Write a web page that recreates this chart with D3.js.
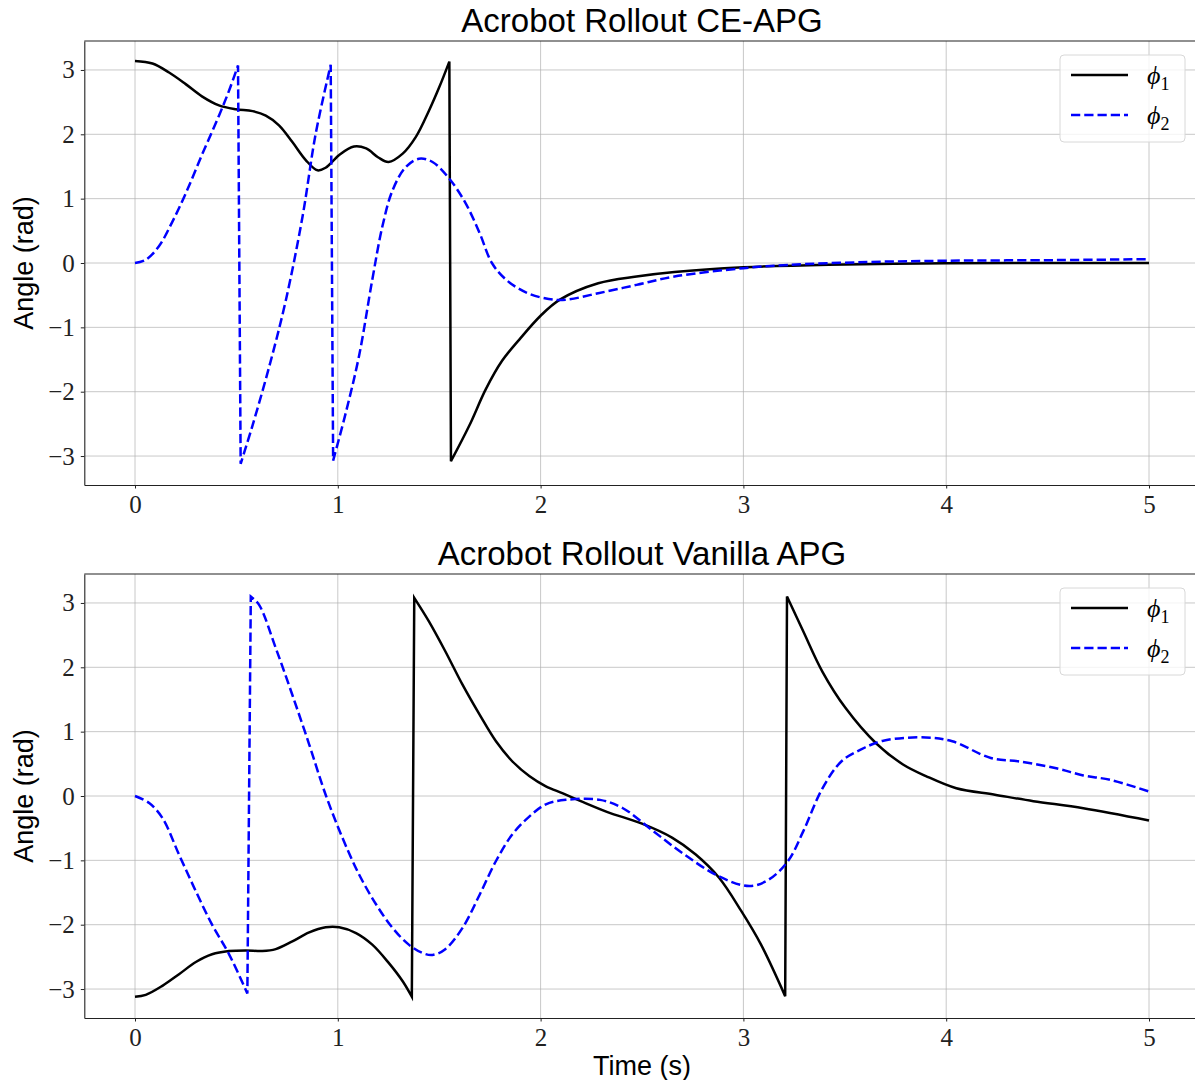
<!DOCTYPE html>
<html>
<head>
<meta charset="utf-8">
<script src="https://cdn.jsdelivr.net/npm/d3@7/dist/d3.min.js"></script>
<style>
  body { margin: 0; background: #fff; }
</style>
</head>
<body>
<div id="chart"></div>
<script>
// ---- data (time in s, angle in rad) ----
var ceTime1 = [0, 0.086, 0.168, 0.25, 0.33, 0.414, 0.497, 0.58, 0.645, 0.71, 0.776, 0.842, 0.90, 0.94, 1.007, 1.08, 1.14, 1.20, 1.25, 1.32, 1.385, 1.45, 1.50, 1.55, 1.558, 1.648, 1.73, 1.81, 1.895, 2.0, 2.095, 2.284, 2.473, 2.66, 3.0, 3.42, 4.0, 4.5, 5.0];
var cePhi1  = [3.14, 3.10, 2.96, 2.78, 2.59, 2.45, 2.39, 2.36, 2.29, 2.14, 1.88, 1.60, 1.44, 1.48, 1.68, 1.81, 1.78, 1.64, 1.57, 1.70, 1.96, 2.37, 2.73, 3.13, -3.08, -2.53, -1.96, -1.52, -1.19, -0.82, -0.57, -0.315, -0.21, -0.14, -0.067, -0.026, -0.005, 0.0, 0.0];

var ceTime2 = [0, 0.053, 0.118, 0.184, 0.25, 0.33, 0.414, 0.464, 0.508, 0.521, 0.579, 0.661, 0.743, 0.826, 0.891, 0.965, 0.977, 1.04, 1.105, 1.17, 1.22, 1.27, 1.335, 1.40, 1.467, 1.55, 1.63, 1.70, 1.76, 1.83, 1.93, 2.04, 2.125, 2.284, 2.473, 2.66, 3.0, 3.22, 3.61, 4.0, 4.55, 5.0];
var cePhi2  = [0, 0.05, 0.26, 0.64, 1.08, 1.68, 2.29, 2.68, 3.07, -3.12, -2.53, -1.62, -0.59, 0.72, 2.01, 3.08, -3.07, -2.32, -1.44, -0.26, 0.57, 1.13, 1.49, 1.62, 1.57, 1.31, 0.93, 0.46, 0.0, -0.26, -0.46, -0.56, -0.57, -0.47, -0.34, -0.21, -0.08, -0.03, 0.015, 0.035, 0.045, 0.06];

var vaTime1 = [0, 0.053, 0.135, 0.217, 0.30, 0.38, 0.464, 0.546, 0.628, 0.694, 0.776, 0.859, 0.94, 1.007, 1.09, 1.17, 1.25, 1.32, 1.365, 1.377, 1.45, 1.53, 1.615, 1.70, 1.78, 1.86, 1.944, 2.026, 2.11, 2.198, 2.33, 2.50, 2.65, 2.765, 2.88, 2.99, 3.087, 3.206, 3.215, 3.295, 3.39, 3.503, 3.654, 3.787, 3.90, 4.05, 4.24, 4.43, 4.676, 5.0];
var vaPhi1  = [-3.12, -3.09, -2.95, -2.77, -2.58, -2.46, -2.41, -2.40, -2.41, -2.38, -2.26, -2.12, -2.04, -2.04, -2.13, -2.31, -2.59, -2.88, -3.12, 3.08, 2.71, 2.25, 1.73, 1.26, 0.85, 0.54, 0.31, 0.15, 0.04, -0.08, -0.25, -0.43, -0.65, -0.91, -1.27, -1.79, -2.31, -3.11, 3.10, 2.56, 1.93, 1.37, 0.82, 0.49, 0.31, 0.12, 0.02, -0.08, -0.19, -0.38];

var vaTime2 = [0, 0.07, 0.135, 0.217, 0.30, 0.38, 0.464, 0.554, 0.571, 0.612, 0.694, 0.776, 0.859, 0.94, 1.023, 1.105, 1.19, 1.27, 1.35, 1.418, 1.467, 1.53, 1.615, 1.70, 1.78, 1.86, 1.944, 2.026, 2.125, 2.293, 2.406, 2.557, 2.709, 2.88, 3.03, 3.125, 3.22, 3.295, 3.39, 3.484, 3.578, 3.69, 3.90, 4.03, 4.22, 4.354, 4.543, 4.676, 4.81, 5.0];
var vaPhi2  = [0, -0.11, -0.34, -0.91, -1.48, -2.0, -2.46, -3.07, 3.10, 2.97, 2.30, 1.57, 0.80, 0.02, -0.65, -1.22, -1.69, -2.05, -2.31, -2.44, -2.47, -2.38, -2.05, -1.53, -1.01, -0.60, -0.32, -0.13, -0.06, -0.06, -0.19, -0.55, -0.91, -1.25, -1.40, -1.30, -1.01, -0.55, 0.12, 0.54, 0.72, 0.86, 0.91, 0.85, 0.59, 0.54, 0.43, 0.32, 0.25, 0.07];

var xTicks = [0, 1, 2, 3, 4, 5];
var yTicks = [-3, -2, -1, 0, 1, 2, 3];
var xLim = [-0.25, 5.25];
var yLim = [-3.45, 3.45];
var titles = ["Acrobot Rollout CE-APG", "Acrobot Rollout Vanilla APG"];
var legendLabels = ["1", "2"];

var W = 1195, H = 1080;
var axLeft = 84.3, axRight = 1199.7, axHeight = 444;
var panelTops = [41, 574];

var svg = d3.select("#chart").append("svg")
    .attr("width", W)
    .attr("height", H);

var x = d3.scaleLinear().domain(xLim).range([axLeft, axRight]);
var y = d3.scaleLinear().domain(yLim).range([axHeight, 0]);

function zip(ts, vs) {
    return ts.map(function(t, i) { return [t, vs[i]]; });
}

var line = d3.line()
    .x(function(d) { return x(d[0]); })
    .y(function(d) { return y(d[1]); })
    .curve(d3.curveCatmullRom.alpha(0.5));

// angle wraps from +pi to -pi: smooth each piece, join pieces with straight jumps
function wrappedPath(ts, vs) {
    var pts = zip(ts, vs), pieces = [[pts[0]]];
    for (var i = 1; i < pts.length; i++) {
        if (Math.abs(pts[i][1] - pts[i - 1][1]) > 3) pieces.push([]);
        pieces[pieces.length - 1].push(pts[i]);
    }
    return pieces.map(function(p, i) {
        var d = p.length > 1 ? line(p) : "M" + x(p[0][0]) + "," + y(p[0][1]);
        return i == 0 ? d : d.replace(/^M/, "L");
    }).join("");
}

function drawPanel(idx, t1, p1, t2, p2) {
    var g = svg.append("g")
        .attr("transform", "translate(0," + panelTops[idx] + ")");

    // grid
    g.append("g").selectAll("line.gx")
        .data(xTicks).enter().append("line")
        .attr("x1", function(d) { return x(d); })
        .attr("x2", function(d) { return x(d); })
        .attr("y1", 0).attr("y2", axHeight)
        .style("stroke", "#b0b0b0").style("stroke-opacity", 0.7).style("stroke-width", 1);
    g.append("g").selectAll("line.gy")
        .data(yTicks).enter().append("line")
        .attr("x1", axLeft).attr("x2", axRight)
        .attr("y1", function(d) { return y(d); })
        .attr("y2", function(d) { return y(d); })
        .style("stroke", "#b0b0b0").style("stroke-opacity", 0.7).style("stroke-width", 1);

    // axes
    var fmt = d3.format("d");
    var xa = g.append("g")
        .attr("transform", "translate(0," + axHeight + ")")
        .call(d3.axisBottom(x).tickValues(xTicks).tickFormat(fmt).tickSize(3.5).tickSizeOuter(0).tickPadding(7));
    var ya = g.append("g")
        .attr("transform", "translate(" + axLeft + ",0)")
        .call(d3.axisLeft(y).tickValues(yTicks).tickFormat(fmt).tickSize(3.5).tickSizeOuter(0).tickPadding(6));
    [xa, ya].forEach(function(a) {
        a.select(".domain").style("stroke", "#222").style("stroke-width", 1.1);
        a.selectAll(".tick line").style("stroke", "#222").style("stroke-width", 1);
        a.selectAll(".tick text")
            .style("font-family", "'Liberation Serif', 'DejaVu Serif', serif")
            .style("font-size", "25px")
            .style("fill", "#222");
    });
    // top spine
    g.append("line")
        .attr("x1", axLeft).attr("x2", axRight)
        .attr("y1", 0).attr("y2", 0)
        .style("stroke", "#222").style("stroke-width", 1.1);

    // curves
    g.append("path")
        .attr("d", wrappedPath(t1, p1))
        .style("fill", "none")
        .style("stroke", "#000")
        .style("stroke-width", 2.5)
        .style("stroke-linejoin", "miter");
    g.append("path")
        .attr("d", wrappedPath(t2, p2))
        .style("fill", "none")
        .style("stroke", "#0000ff")
        .style("stroke-width", 2.5)
        .style("stroke-dasharray", "9.25,4");

    // title
    g.append("text")
        .attr("x", (axLeft + axRight) / 2)
        .attr("y", -9)
        .attr("text-anchor", "middle")
        .style("font-family", "'Liberation Sans', Arial, sans-serif")
        .style("font-size", "33px")
        .text(titles[idx]);

    // y label
    g.append("text")
        .attr("transform", "rotate(-90)")
        .attr("x", -axHeight / 2)
        .attr("y", 33)
        .attr("text-anchor", "middle")
        .style("font-family", "'Liberation Sans', Arial, sans-serif")
        .style("font-size", "27px")
        .text("Angle (rad)");

    // legend
    var lg = g.append("g");
    lg.append("rect")
        .attr("x", 1060).attr("y", 14)
        .attr("width", 125).attr("height", 87)
        .attr("rx", 4)
        .style("fill", "#fff").style("fill-opacity", 0.8)
        .style("stroke", "#d8d8d8").style("stroke-width", 1);
    var ly = [34, 74];
    ly.forEach(function(yy, i) {
        lg.append("line")
            .attr("x1", 1071).attr("x2", 1128)
            .attr("y1", yy).attr("y2", yy)
            .style("stroke", i == 0 ? "#000" : "#0000ff")
            .style("stroke-width", 2.5)
            .style("stroke-dasharray", i == 0 ? null : "9.25,4");
        var t = lg.append("text")
            .attr("x", 1147).attr("y", yy + 9)
            .style("font-family", "'Liberation Serif', 'DejaVu Serif', serif")
            .style("font-size", "26px");
        t.append("tspan").style("font-style", "italic").text("\u03d5");
        t.append("tspan").attr("dy", 6).style("font-size", "18px").text(legendLabels[i]);
    });
}

drawPanel(0, ceTime1, cePhi1, ceTime2, cePhi2);
drawPanel(1, vaTime1, vaPhi1, vaTime2, vaPhi2);

// x label
svg.append("text")
    .attr("x", (axLeft + axRight) / 2)
    .attr("y", 1075)
    .attr("text-anchor", "middle")
    .style("font-family", "'Liberation Sans', Arial, sans-serif")
    .style("font-size", "27px")
    .text("Time (s)");
</script>
</body>
</html>
